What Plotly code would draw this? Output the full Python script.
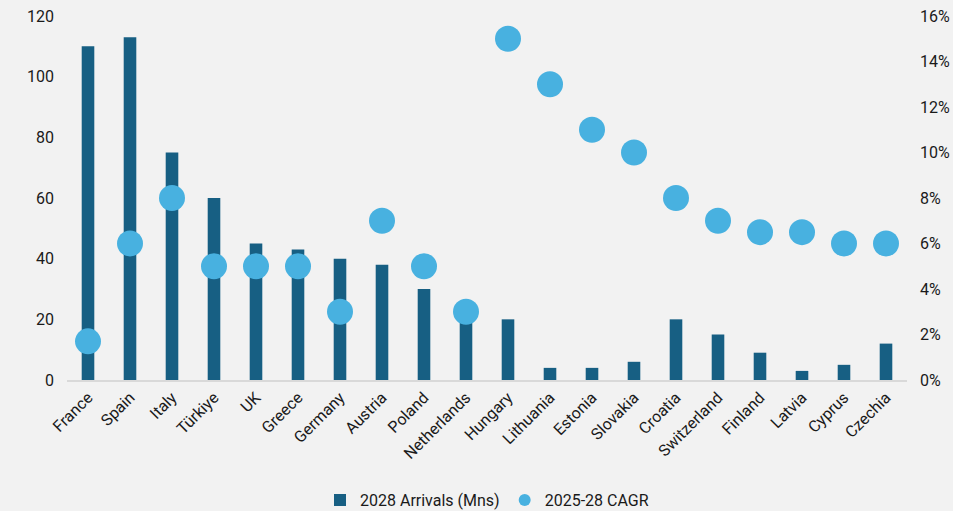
import plotly.graph_objects as go

countries = ["France", "Spain", "Italy", "Türkiye", "UK", "Greece", "Germany", "Austria",
             "Poland", "Netherlands", "Hungary", "Lithuania", "Estonia", "Slovakia",
             "Croatia", "Switzerland", "Finland", "Latvia", "Cyprus", "Czechia"]
arrivals_2028 = [110, 113, 75, 60, 45, 43, 40, 38, 30, 21, 20, 4, 4, 6, 20, 15, 9, 3, 5, 12]
cagr_2025_28 = [1.7, 6, 8, 5, 5, 5, 3, 7, 5, 3, 15, 13, 11, 10, 8, 7, 6.5, 6.5, 6, 6]

left_ticks = [0, 20, 40, 60, 80, 100, 120]
right_ticks = [0, 2, 4, 6, 8, 10, 12, 14, 16]

BAR = "#175f83"
DOT = "#48b1e0"
BG = "#f2f2f2"
FONT = "Roboto"

fig = go.Figure()
fig.add_trace(go.Bar(
    x=countries, y=arrivals_2028, name="2028 Arrivals (Mns)",
    marker=dict(color=BAR, line=dict(width=0)), width=0.3,
))
fig.add_trace(go.Scatter(
    x=countries, y=cagr_2025_28, name="2025-28 CAGR", mode="markers",
    marker=dict(color=DOT, size=26, line=dict(width=0)), yaxis="y2",
))

fig.update_layout(
    width=953, height=511,
    paper_bgcolor=BG, plot_bgcolor=BG,
    margin=dict(l=67, r=46, t=16, b=131, autoexpand=False),
    font=dict(family=FONT, size=16, color="#1a1a1a"),
    showlegend=True,
    legend=dict(orientation="h", x=0.5, xanchor="center", y=-0.33, yanchor="middle",
                font=dict(size=16), itemsizing="constant", traceorder="normal",
                itemwidth=30),
    xaxis=dict(range=[-0.5, len(countries) - 0.5], tickangle=-45, showgrid=False,
               showline=True, linecolor="#d9d9d9", linewidth=2, ticks="",
               tickfont=dict(size=16), zeroline=False, automargin=False),
    yaxis=dict(range=[0, 120], tickvals=left_ticks, showgrid=False, zeroline=False,
               showline=False, ticks="", ticklabelstandoff=12, automargin=False),
    yaxis2=dict(range=[0, 16], tickvals=right_ticks,
                ticktext=[f"{v}%" for v in right_ticks], overlaying="y", side="right",
                showgrid=False, zeroline=False, showline=False, ticks="",
                ticklabelstandoff=12, automargin=False),
    bargap=0.7,
)

fig.write_html("out.html")
